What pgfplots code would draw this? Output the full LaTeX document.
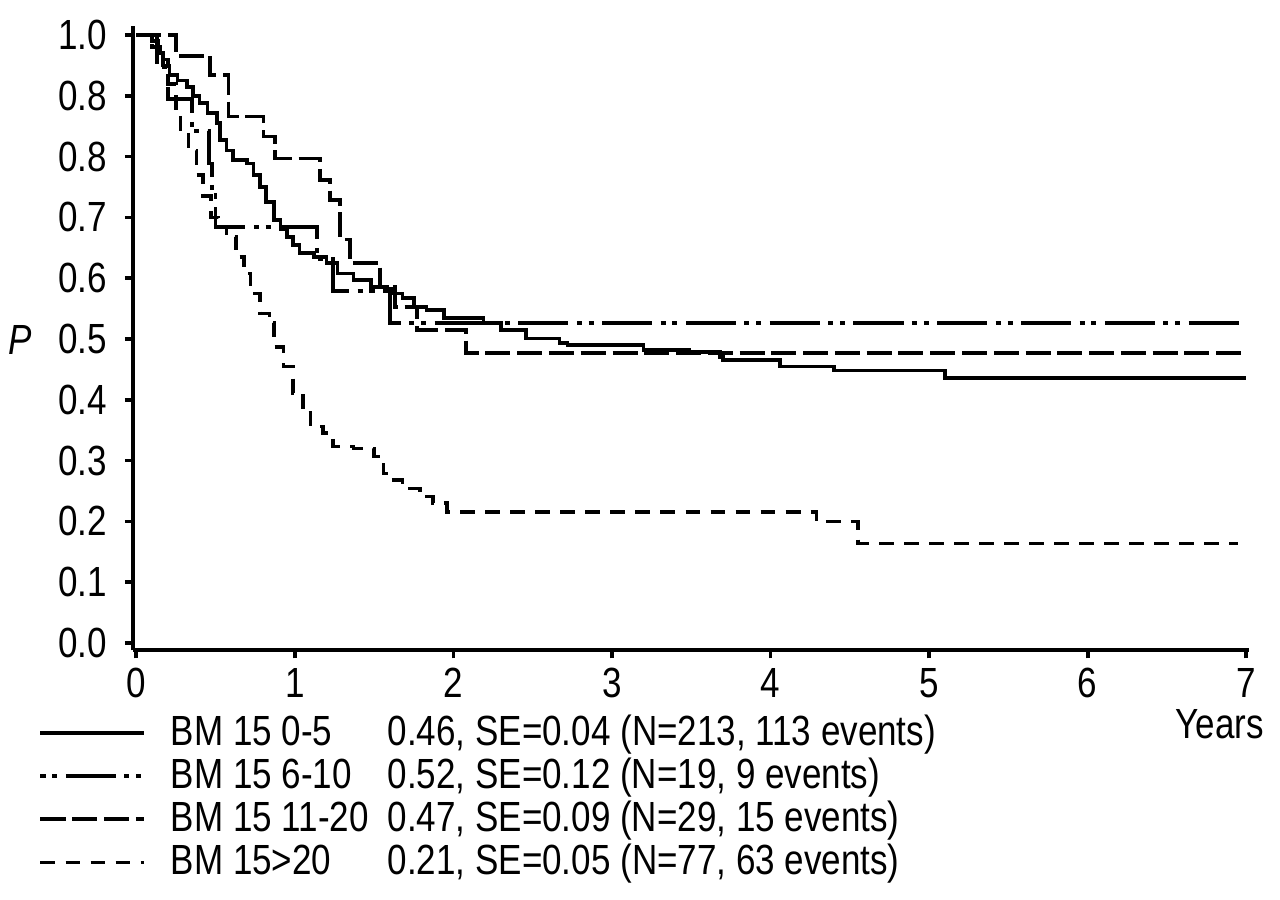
\documentclass[border=0pt]{standalone}
\usepackage{fontspec}
\setmainfont{Liberation Sans}[FakeStretch=0.83]
\usepackage{pgfplots}
\pgfplotsset{compat=1.18}

\pgfplotsset{
  km/.style={black, line width=1.3pt, const plot},
  bmA/.style={km, solid},
  bmB/.style={km, dash pattern=on 17.8pt off 3pt on 1.8pt off 2.4pt on 1.8pt off 3pt},
  bmC/.style={km, dash pattern=on 8.9pt off 2.4pt},
  bmD/.style={km, dash pattern=on 5.3pt off 3.6pt},
}

\begin{document}
\begin{tikzpicture}[font=\fontsize{15}{18}\selectfont]
\path[use as bounding box] (-1.6625cm,-3.109cm) rectangle (14.3375cm,8.129cm);
\begin{axis}[
  at={(0,0)}, anchor=south west,
  scale only axis, width=13.956cm, height=7.805cm,
  xmin=-0.02, xmax=7.02, ymin=-0.012, ymax=1.015,
  axis lines*=left,
  axis line style={line width=1.5pt},
  tick align=outside, major tick length=0.1cm,
  tick style={black, line width=1.3pt},
  xtick={0,1,2,3,4,5,6,7},
  ytick={0,0.1,0.2,0.3,0.4,0.5,0.6,0.7,0.8,0.9,1},
  yticklabels={0.0,0.1,0.2,0.3,0.4,0.5,0.6,0.7,0.8,0.8,1.0},
  /pgf/number format/assume math mode=true,
  tick label style={font=\fontsize{15}{18}\selectfont},
  yticklabel style={xshift=-0.1cm},
  xlabel={Years},
  xlabel style={at={(axis description cs:1.0134,-0.1405)}, anchor=base east, inner sep=0pt},
  ylabel={\textit{P}},
  ylabel style={rotate=-90, at={(axis description cs:-0.101,0.497)}, anchor=center, inner sep=0pt},
  legend style={draw=none, fill=none, at={(-0.085,-0.102)}, anchor=north west,
    inner sep=0pt, row sep=0pt, column sep=9pt,
    nodes={inner sep=0pt, text height=11pt, text depth=4.3pt, font=\fontsize{15}{18}\selectfont},
    cells={anchor=west}},
  legend image code/.code={\path (0pt,0pt) (1.29cm,0pt); \draw[#1] (0cm,1pt) -- (1.29cm,1pt);},
  clip=false,
]
% BM 15 0-5
\addplot[bmA] coordinates {
(0,1.000) (0.10,0.990) (0.14,0.970) (0.17,0.950) (0.21,0.934) (0.26,0.925)
(0.32,0.915) (0.36,0.900) (0.40,0.888) (0.45,0.872) (0.51,0.855) (0.53,0.827)
(0.57,0.810) (0.61,0.794) (0.70,0.789) (0.74,0.770) (0.78,0.750) (0.82,0.725)
(0.87,0.696) (0.91,0.680) (0.95,0.668) (0.99,0.655) (1.03,0.641) (1.12,0.635)
(1.20,0.625) (1.27,0.608) (1.37,0.597) (1.48,0.586) (1.58,0.583) (1.62,0.575)
(1.68,0.568) (1.75,0.553) (1.83,0.548) (1.94,0.535) (2.19,0.526) (2.30,0.515)
(2.46,0.501) (2.67,0.493) (2.72,0.490) (3.20,0.482) (3.49,0.479) (3.68,0.471)
(3.70,0.465) (4.06,0.455) (4.40,0.448) (5.10,0.436) (7.00,0.436)
};
\addlegendentry{\makebox[2.7125cm][l]{BM 15 0-5}0.46, SE=0.04 (N=213, 113 events)}
% BM 15 6-10
\addplot[bmB, legend image post style={dash phase=20.8pt}] coordinates {
(0,1.000) (0.13,0.947) (0.20,0.895) (0.35,0.842) (0.46,0.789) (0.48,0.737)
(0.50,0.684) (1.14,0.632) (1.24,0.579) (1.60,0.526) (7.00,0.526)
};
\addlegendentry{\makebox[2.7125cm][l]{BM 15 6-10}0.52, SE=0.12 (N=19, 9 events)}
% BM 15 11-20
\addplot[bmC] coordinates {
(0,1.000) (0.25,0.966) (0.467,0.934) (0.582,0.866) (0.803,0.833) (0.876,0.797)
(1.160,0.762) (1.223,0.729) (1.286,0.664) (1.349,0.625) (1.538,0.586)
(1.63,0.553) (1.77,0.515) (2.08,0.477) (7.00,0.477)
};
\addlegendentry{\makebox[2.7125cm][l]{BM 15 11-20}0.47, SE=0.09 (N=29, 15 events)}
% BM 15 >20
\addplot[bmD] coordinates {
(0,1.000) (0.10,0.980) (0.15,0.960) (0.20,0.920) (0.25,0.880) (0.28,0.845)
(0.33,0.810) (0.38,0.770) (0.42,0.735) (0.47,0.700) (0.52,0.685) (0.57,0.668)
(0.63,0.635) (0.68,0.608) (0.72,0.575) (0.78,0.542) (0.84,0.526) (0.87,0.487)
(0.93,0.455) (0.99,0.411) (1.05,0.378) (1.10,0.356) (1.18,0.345) (1.24,0.323)
(1.37,0.320) (1.50,0.307) (1.56,0.279) (1.60,0.268) (1.68,0.254) (1.79,0.241)
(1.87,0.230) (1.96,0.216) (4.29,0.200) (4.55,0.164) (6.95,0.164)
};
\addlegendentry{\makebox[2.7125cm][l]{BM 15>20}0.21, SE=0.05 (N=77, 63 events)}
\end{axis}
\end{tikzpicture}
\end{document}
